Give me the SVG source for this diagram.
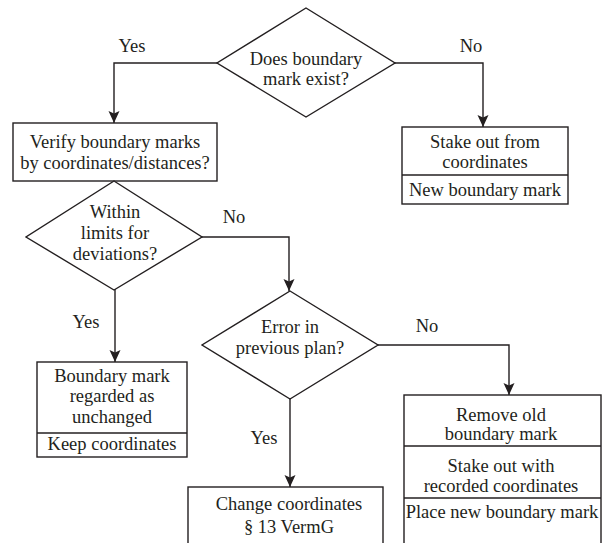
<svg xmlns="http://www.w3.org/2000/svg" width="602" height="543" viewBox="0 0 602 543">
<defs>
<marker id="arr" markerUnits="userSpaceOnUse" markerWidth="12" markerHeight="12" refX="12" refY="6" orient="auto" viewBox="0 0 12 12">
<path d="M0,0.5 L12,6 L0,11.5 L2.5,6 Z" fill="#231f20"/>
</marker>
</defs>
<style>
.s{fill:#fff;stroke:#231f20;stroke-width:1.4}
.d{fill:none;stroke:#231f20;stroke-width:1.4}
.c{fill:none;stroke:#231f20;stroke-width:1.4;marker-end:url(#arr)}
text{font-family:"Liberation Serif","Times New Roman",serif;font-size:18.5px;fill:#231f20;text-anchor:middle}
</style>
<rect width="602" height="543" fill="#fff"/>
<g id="connectors">
<polyline class="c" points="217,63 114,63 114,123"/>
<polyline class="c" points="394,63 483,63 483,127"/>
<polyline class="c" points="202,237 289,237 289,291"/>
<polyline class="c" points="115,289 115,362"/>
<polyline class="c" points="378,345 509,345 509,395"/>
<polyline class="c" points="290,399 290,487"/>
<text x="132" y="52">Yes</text>
<text x="471" y="52">No</text>
<text x="234" y="223">No</text>
<text x="86" y="328">Yes</text>
<text x="427" y="332">No</text>
<text x="264" y="444">Yes</text>
</g>
<g id="d1">
<polygon class="s" points="306,8 395,63 306,117 217,63"/>
<text x="306" y="65">Does boundary</text>
<text x="306" y="85">mark exist?</text>
</g>
<g id="verify">
<rect class="s" x="13" y="123" width="204" height="58"/>
<text x="115" y="148">Verify boundary marks</text>
<text x="115" y="169">by coordinates/distances?</text>
</g>
<g id="stake">
<rect class="s" x="402" y="127" width="166" height="77"/>
<line class="d" x1="402" y1="175" x2="568" y2="175"/>
<text x="485" y="148">Stake out from</text>
<text x="485" y="168">coordinates</text>
<text x="485" y="196">New boundary mark</text>
</g>
<g id="d2">
<polygon class="s" points="114,181 202,237 114,290 26,237"/>
<text x="115" y="218">Within</text>
<text x="115" y="239">limits for</text>
<text x="115" y="260">deviations?</text>
</g>
<g id="d3">
<polygon class="s" points="290,291 378,345 290,399 202,345"/>
<text x="290" y="333">Error in</text>
<text x="290" y="354">previous plan?</text>
</g>
<g id="unchanged">
<rect class="s" x="37" y="362" width="150" height="95"/>
<line class="d" x1="37" y1="433" x2="187" y2="433"/>
<text x="112" y="382">Boundary mark</text>
<text x="112" y="402">regarded as</text>
<text x="112" y="423">unchanged</text>
<text x="112" y="450">Keep coordinates</text>
</g>
<g id="change">
<rect class="s" x="188" y="487" width="195" height="70"/>
<text x="289" y="510">Change coordinates</text>
<text x="289" y="533">§ 13 VermG</text>
</g>
<g id="remove">
<rect class="s" x="404" y="395" width="197" height="160"/>
<line class="d" x1="404" y1="446" x2="601" y2="446"/>
<line class="d" x1="404" y1="498" x2="601" y2="498"/>
<text x="501" y="421">Remove old</text>
<text x="501" y="440">boundary mark</text>
<text x="501" y="472">Stake out with</text>
<text x="501" y="492">recorded coordinates</text>
<text x="502" y="518">Place new boundary mark</text>
</g>
</svg>
